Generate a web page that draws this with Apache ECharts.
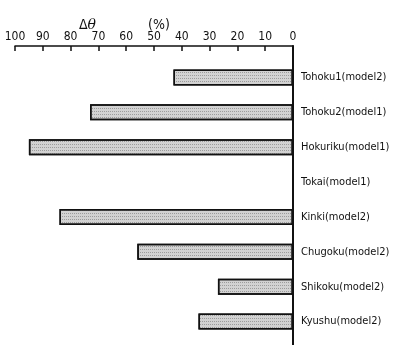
<!DOCTYPE html>
<html><head><meta charset="utf-8">
<script src="https://cdn.jsdelivr.net/npm/echarts@6/dist/echarts.min.js"></script>
<style>html,body{margin:0;padding:0;background:#fff}#c{width:411px;height:345px}</style>
</head><body><div id="c"></div>
<script>
const categories = ['Tohoku1(model2)','Tohoku2(model1)','Hokuriku(model1)','Tokai(model1)','Kinki(model2)','Chugoku(model2)','Shikoku(model2)','Kyushu(model2)'];
const deltaTheta = [43, 73, 95, 0, 84, 56, 27, 34];
const tickMin = 0, tickMax = 100, tickStep = 10;

const font = '"Liberation Sans Narrow","DejaVu Sans Condensed","Liberation Sans",sans-serif';
const chart = echarts.init(document.getElementById('c'));
chart.setOption({
  animation: false,
  backgroundColor: '#fff',
  title: {
    text: '{d|Δ}{t|θ}{g|}{p|(%)}',
    left: 74, top: 11,
    textStyle: {
      fontWeight: 'normal',
      rich: {
        d: {fontSize: 14, color: '#111', fontFamily: font, fontWeight: 'normal'},
        t: {fontSize: 14, color: '#111', fontStyle: 'italic', fontFamily: 'DejaVu Serif', fontWeight: 'normal'},
        g: {width: 52},
        p: {fontSize: 14, color: '#111', fontFamily: font, fontWeight: 'normal'}
      }
    }
  },
  grid: [
    {left: 15, right: 118, top: 60, bottom: 6},
    {left: 15, right: 118, top: 46, bottom: 0}
  ],
  xAxis: [
    {
      type: 'value', gridIndex: 0, position: 'top', offset: 14, inverse: true,
      min: tickMin, max: tickMax, interval: tickStep,
      axisLine: {show: true, lineStyle: {color: '#111', width: 1.5}},
      axisTick: {show: true, inside: true, length: 5, lineStyle: {color: '#111', width: 1.5}},
      axisLabel: {color: '#111', fontSize: 12, margin: 3, fontFamily: font},
      splitLine: {show: false}
    },
    {type: 'value', gridIndex: 1, show: false, min: tickMin, max: tickMax, inverse: true}
  ],
  yAxis: [
    {
      type: 'category', gridIndex: 0, data: categories, inverse: true, position: 'right',
      axisLine: {show: false}, axisTick: {show: false},
      axisLabel: {color: '#111', fontSize: 11, margin: 8, fontFamily: font}
    },
    {
      type: 'value', gridIndex: 1, position: 'right', min: 0, max: 1,
      axisLine: {show: true, lineStyle: {color: '#111', width: 2}},
      axisTick: {show: false}, axisLabel: {show: false}, splitLine: {show: false}
    }
  ],
  series: [{
    type: 'bar', xAxisIndex: 0, yAxisIndex: 0,
    data: deltaTheta,
    barWidth: 16,
    itemStyle: {
      color: '#d2d2d2', borderColor: '#111', borderWidth: 1.5,
      decal: {symbol: 'rect', symbolSize: 1, dashArrayX: [1, 1], dashArrayY: [1, 2], color: 'rgba(90,90,90,0.45)', rotation: 0}
    }
  }]
});
</script></body></html>
